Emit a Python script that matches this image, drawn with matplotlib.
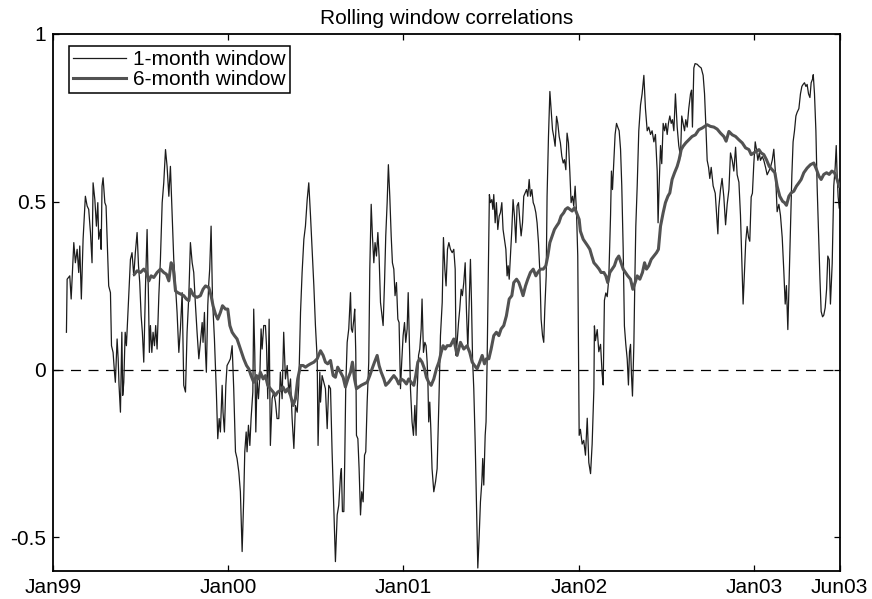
import matplotlib
matplotlib.use("Agg")
import matplotlib.pyplot as plt

# 1-month rolling window correlation (decimal years, corr)
t_1m = [
    1999.078, 1999.082, 1999.097, 1999.105, 1999.110, 1999.120, 1999.129, 1999.139,
    1999.148, 1999.154, 1999.163, 1999.173, 1999.186, 1999.196, 1999.205, 1999.215,
    1999.224, 1999.230, 1999.240, 1999.249, 1999.257, 1999.262, 1999.272, 1999.276,
    1999.281, 1999.287, 1999.297, 1999.304, 1999.319, 1999.329, 1999.335, 1999.344,
    1999.352, 1999.357, 1999.367, 1999.373, 1999.378, 1999.386, 1999.394, 1999.399,
    1999.405, 1999.413, 1999.420, 1999.433, 1999.443, 1999.452, 1999.462, 1999.471,
    1999.481, 1999.489, 1999.496, 1999.504, 1999.511, 1999.519, 1999.529, 1999.538,
    1999.546, 1999.551, 1999.557, 1999.565, 1999.572, 1999.580, 1999.587, 1999.595,
    1999.605, 1999.614, 1999.624, 1999.633, 1999.643, 1999.652, 1999.662, 1999.671,
    1999.681, 1999.690, 1999.700, 1999.709, 1999.719, 1999.728, 1999.738, 1999.747,
    1999.757, 1999.766, 1999.776,
    1999.785, 1999.795, 1999.804, 1999.814, 1999.823, 1999.833, 1999.842, 1999.852,
    1999.857, 1999.865, 1999.871, 1999.876, 1999.884, 1999.890, 1999.895, 1999.903,
    1999.911, 1999.922, 1999.933, 1999.941, 1999.949, 1999.956, 1999.966, 1999.971,
    1999.979, 1999.987, 1999.994, 2000.004, 2000.013, 2000.023, 2000.032, 2000.042,
    2000.051, 2000.061, 2000.070, 2000.080, 2000.089, 2000.095, 2000.103, 2000.108,
    2000.116, 2000.124, 2000.131, 2000.141, 2000.146, 2000.152, 2000.158, 2000.165,
    2000.173, 2000.181, 2000.188, 2000.194, 2000.203, 2000.213, 2000.219, 2000.226,
    2000.234, 2000.241, 2000.251, 2000.260, 2000.270, 2000.279, 2000.289, 2000.298,
    2000.308, 2000.317, 2000.327, 2000.337, 2000.346, 2000.356, 2000.365, 2000.375,
    2000.384, 2000.394, 2000.403, 2000.413, 2000.422, 2000.432, 2000.441, 2000.451,
    2000.460, 2000.470, 2000.479, 2000.489, 2000.498, 2000.508, 2000.513, 2000.523,
    2000.527, 2000.536, 2000.546, 2000.555, 2000.565, 2000.574, 2000.584, 2000.593,
    2000.603, 2000.612, 2000.622, 2000.631, 2000.641, 2000.646, 2000.652, 2000.660,
    2000.665, 2000.671, 2000.679, 2000.688, 2000.698, 2000.703, 2000.709, 2000.717,
    2000.722, 2000.728, 2000.732, 2000.740, 2000.747, 2000.755, 2000.762, 2000.770,
    2000.778, 2000.785, 2000.793, 2000.802, 2000.808, 2000.816, 2000.823, 2000.831,
    2000.838, 2000.846, 2000.854, 2000.861, 2000.869, 2000.878, 2000.884, 2000.892,
    2000.899, 2000.907, 2000.914, 2000.922, 2000.930, 2000.937, 2000.945, 2000.952,
    2000.960, 2000.968, 2000.975, 2000.983, 2000.990, 2000.998, 2001.006, 2001.013,
    2001.021, 2001.027, 2001.034, 2001.040, 2001.049, 2001.057, 2001.065, 2001.072,
    2001.078, 2001.086, 2001.093, 2001.101, 2001.106, 2001.114, 2001.122, 2001.129,
    2001.135, 2001.139, 2001.144, 2001.150, 2001.156, 2001.163, 2001.173, 2001.183,
    2001.192, 2001.202, 2001.211, 2001.221, 2001.228, 2001.236, 2001.243, 2001.251,
    2001.259,
    2001.268, 2001.278, 2001.287, 2001.295, 2001.300, 2001.306, 2001.314, 2001.321,
    2001.329, 2001.336, 2001.344, 2001.352, 2001.359, 2001.367, 2001.375, 2001.382,
    2001.388, 2001.394, 2001.401, 2001.409, 2001.416, 2001.424, 2001.432, 2001.439,
    2001.447, 2001.452, 2001.458, 2001.466, 2001.471, 2001.477, 2001.485, 2001.490,
    2001.496, 2001.504, 2001.510, 2001.515, 2001.523, 2001.530, 2001.538, 2001.546,
    2001.553, 2001.561, 2001.568, 2001.576, 2001.584, 2001.591, 2001.597, 2001.603,
    2001.610, 2001.618, 2001.625, 2001.633, 2001.641, 2001.648, 2001.656, 2001.663,
    2001.671, 2001.679, 2001.686, 2001.694, 2001.702, 2001.709, 2001.717, 2001.724,
    2001.732, 2001.740, 2001.747, 2001.755, 2001.762, 2001.770, 2001.778, 2001.785,
    2001.793, 2001.800, 2001.806, 2001.814, 2001.819, 2001.827, 2001.835, 2001.842,
    2001.850, 2001.857, 2001.865, 2001.873, 2001.880, 2001.888, 2001.895, 2001.903,
    2001.911, 2001.918, 2001.926, 2001.933, 2001.941, 2001.949, 2001.956, 2001.964,
    2001.971, 2001.979, 2001.987, 2001.994, 2002.002,
    2002.009, 2002.019, 2002.028, 2002.038, 2002.048, 2002.057, 2002.067, 2002.076,
    2002.086, 2002.089, 2002.095, 2002.105, 2002.114, 2002.124, 2002.133, 2002.139,
    2002.146, 2002.154, 2002.162, 2002.171, 2002.181, 2002.186, 2002.192, 2002.200,
    2002.207, 2002.215, 2002.222, 2002.230, 2002.238, 2002.245, 2002.253, 2002.260,
    2002.268, 2002.276, 2002.283, 2002.289, 2002.295, 2002.300, 2002.306, 2002.314,
    2002.319, 2002.325, 2002.333, 2002.342, 2002.352, 2002.361, 2002.371, 2002.380,
    2002.390, 2002.399, 2002.409, 2002.418, 2002.428, 2002.437, 2002.447, 2002.452,
    2002.458, 2002.466, 2002.473, 2002.481, 2002.489, 2002.496, 2002.504, 2002.511,
    2002.519, 2002.527, 2002.534, 2002.542, 2002.551, 2002.561, 2002.570, 2002.580,
    2002.587, 2002.595, 2002.603, 2002.610, 2002.618, 2002.627, 2002.637, 2002.643,
    2002.648, 2002.656, 2002.663, 2002.675, 2002.686, 2002.698, 2002.709, 2002.717,
    2002.724, 2002.732, 2002.740, 2002.747, 2002.755, 2002.766, 2002.778, 2002.785,
    2002.793, 2002.798, 2002.808, 2002.817, 2002.827, 2002.837, 2002.846, 2002.856,
    2002.865, 2002.875, 2002.884, 2002.894, 2002.903, 2002.913, 2002.922, 2002.930,
    2002.937, 2002.945, 2002.952, 2002.960, 2002.968, 2002.975, 2002.983, 2002.990,
    2002.998, 2003.006, 2003.013, 2003.021, 2003.029, 2003.036, 2003.046, 2003.055,
    2003.065, 2003.074, 2003.084, 2003.093, 2003.103, 2003.112, 2003.122, 2003.131,
    2003.141, 2003.150, 2003.160, 2003.169, 2003.177, 2003.184, 2003.192, 2003.200,
    2003.207, 2003.215, 2003.222, 2003.230, 2003.238, 2003.245, 2003.255, 2003.264,
    2003.272, 2003.279, 2003.287, 2003.295, 2003.302, 2003.310, 2003.318, 2003.325,
    2003.333, 2003.337, 2003.344, 2003.352, 2003.359, 2003.367, 2003.375, 2003.382,
    2003.390, 2003.397, 2003.405, 2003.413, 2003.420, 2003.428, 2003.435, 2003.445,
    2003.454, 2003.462, 2003.468, 2003.473, 2003.479, 2003.485,
]
corr_1m = [
    0.111, 0.269, 0.279, 0.210, 0.264, 0.378, 0.318, 0.358,
    0.289, 0.368, 0.210, 0.388, 0.516, 0.487, 0.477, 0.408,
    0.318, 0.556, 0.506, 0.427, 0.497, 0.388, 0.417, 0.358,
    0.546, 0.571, 0.497, 0.487, 0.249, 0.229, 0.071, 0.051,
    -0.008, -0.038, 0.091, 0.032, -0.047, -0.127, 0.111, -0.077,
    -0.038, 0.111, 0.071, 0.220, 0.328, 0.348, 0.279, 0.348,
    0.408, 0.309, 0.259, 0.160, 0.111, 0.022, 0.249, 0.417,
    0.210, 0.051, 0.131, 0.051, 0.111, 0.071, 0.131, 0.061,
    0.220, 0.328, 0.497, 0.556, 0.655, 0.605, 0.516, 0.605,
    0.457, 0.328, 0.249, 0.170, 0.051, 0.121, 0.229, -0.047,
    -0.067, 0.111, 0.220,
    0.378, 0.318, 0.289, 0.190, 0.111, 0.032, 0.081, 0.140,
    0.081, 0.170, 0.051, -0.008, 0.190, 0.259, 0.299, 0.427,
    0.210, 0.091, -0.067, -0.206, -0.146, -0.186, -0.047, -0.127,
    -0.186, -0.047, 0.012, 0.022, 0.032, 0.071, -0.057, -0.245,
    -0.265, -0.305, -0.364, -0.542, -0.384, -0.245, -0.186, -0.245,
    -0.166, -0.226, -0.146, -0.067, 0.180, 0.051, -0.186, -0.028,
    -0.087, -0.018, 0.121, 0.061, 0.131, 0.131, 0.071, -0.087,
    0.150, -0.226, -0.087, -0.067, -0.097, -0.146, -0.146, -0.008,
    -0.087, 0.111, -0.028, 0.012, -0.067, -0.028, -0.146, -0.235,
    -0.107, -0.127, -0.047, 0.170, 0.289, 0.388, 0.427, 0.506,
    0.556, 0.457, 0.358, 0.249, 0.131, 0.032, -0.226, -0.008,
    -0.097, -0.018, -0.038, -0.057, -0.176, -0.047, -0.057, -0.245,
    -0.423, -0.572, -0.433, -0.404, -0.315, -0.295, -0.423, -0.423,
    -0.275, -0.047, 0.081, 0.121, 0.229, 0.121, 0.111, 0.150,
    0.180, 0.051, -0.196, -0.206, -0.295, -0.433, -0.364, -0.394,
    -0.255, -0.245, -0.097, 0.022, 0.299, 0.492, 0.398, 0.318,
    0.378, 0.338, 0.408, 0.338, 0.200, 0.160, 0.131, 0.259,
    0.398, 0.497, 0.610, 0.516, 0.398, 0.318, 0.299, 0.220,
    0.259, 0.150, 0.140, -0.057, 0.022, 0.101, 0.140, 0.081,
    0.121, 0.229, 0.081, -0.057, -0.156, -0.196, -0.107, -0.196,
    -0.067, 0.042, 0.061, 0.121, 0.210, 0.051, 0.081, 0.071,
    0.022, -0.028, -0.156, -0.097, -0.176, -0.295, -0.364, -0.334,
    -0.295, -0.097, 0.101, 0.200, 0.393, 0.299, 0.249, 0.358,
    0.378,
    0.358, 0.348, 0.358, 0.299, 0.042, 0.081, 0.140, 0.180,
    0.239, 0.220, 0.259, 0.318, 0.180, 0.061, 0.200, 0.328,
    0.200, 0.032, -0.057, -0.216, -0.394, -0.591, -0.493, -0.394,
    -0.334, -0.265, -0.344, -0.196, -0.156, 0.022, 0.338, 0.521,
    0.497, 0.506, 0.477, 0.521, 0.437, 0.497, 0.417, 0.457,
    0.467, 0.497, 0.417, 0.388, 0.358, 0.279, 0.309, 0.269,
    0.338, 0.417, 0.506, 0.457, 0.378, 0.487, 0.497, 0.447,
    0.398, 0.437, 0.516, 0.526, 0.536, 0.516, 0.566, 0.516,
    0.536, 0.497, 0.487, 0.467, 0.437, 0.378, 0.289, 0.150,
    0.101, 0.081, 0.180, 0.279, 0.516, 0.694, 0.828, 0.774,
    0.714, 0.694, 0.665, 0.754, 0.734, 0.694, 0.675, 0.635,
    0.615, 0.625, 0.595, 0.704, 0.675, 0.586, 0.497, 0.516,
    0.487, 0.546, 0.467, 0.338, -0.196,
    -0.178, -0.222, -0.211, -0.255, -0.145, -0.277, -0.310, -0.222,
    -0.057, 0.130, 0.086, 0.119, 0.053, 0.075, -0.013, -0.046,
    0.206, 0.228, 0.217, 0.272, 0.459, 0.591, 0.536, 0.623,
    0.700, 0.733, 0.722, 0.711, 0.656, 0.547, 0.360, 0.130,
    0.075, 0.031, -0.046, 0.053, 0.075, -0.013, -0.079, 0.075,
    0.250, 0.426, 0.547, 0.711, 0.788, 0.821, 0.876, 0.777,
    0.711, 0.722, 0.700, 0.711, 0.678, 0.700, 0.591, 0.437,
    0.547, 0.667, 0.613, 0.733, 0.711, 0.733, 0.700, 0.733,
    0.755, 0.733, 0.744, 0.711, 0.821, 0.722, 0.667, 0.634,
    0.755, 0.733, 0.711, 0.744, 0.722, 0.777, 0.821, 0.832,
    0.722, 0.898, 0.911, 0.909, 0.903, 0.898, 0.876, 0.821,
    0.733, 0.623, 0.602, 0.569, 0.602, 0.547, 0.525, 0.470,
    0.404, 0.481, 0.536, 0.569, 0.514, 0.431, 0.492, 0.536,
    0.645, 0.623, 0.591, 0.662, 0.580, 0.558, 0.459, 0.316,
    0.195, 0.294, 0.382, 0.426, 0.393, 0.382, 0.514, 0.525,
    0.613, 0.678, 0.656, 0.623, 0.645, 0.623, 0.634, 0.623,
    0.602, 0.580, 0.591, 0.602, 0.623, 0.656, 0.580, 0.470,
    0.492, 0.459, 0.393, 0.294, 0.195, 0.250, 0.119, 0.283,
    0.426, 0.580, 0.678, 0.711, 0.755, 0.766, 0.777, 0.821,
    0.843, 0.849, 0.854, 0.843, 0.849, 0.821, 0.810, 0.854,
    0.865, 0.878, 0.821, 0.711, 0.547, 0.404, 0.272, 0.173,
    0.157, 0.162, 0.184, 0.239, 0.338, 0.327, 0.195, 0.316,
    0.547, 0.602, 0.667, 0.580, 0.514, 0.481,
]

# 6-month rolling window correlation
t_6m = [
    1999.466, 1999.481, 1999.500, 1999.519, 1999.534, 1999.548, 1999.561, 1999.576,
    1999.595, 1999.614, 1999.633, 1999.648, 1999.662, 1999.675, 1999.686, 1999.700,
    1999.713, 1999.728, 1999.747, 1999.762, 1999.776,
    1999.785, 1999.804, 1999.823, 1999.842, 1999.857, 1999.871, 1999.890, 1999.903,
    1999.914, 1999.928, 1999.941, 1999.956, 1999.968, 1999.985, 1999.998, 2000.010,
    2000.023, 2000.036, 2000.051, 2000.070, 2000.089, 2000.105, 2000.118, 2000.131,
    2000.146, 2000.162, 2000.175, 2000.184, 2000.200, 2000.213, 2000.226, 2000.241,
    2000.257, 2000.270, 2000.283, 2000.298, 2000.313, 2000.327, 2000.340, 2000.356,
    2000.371, 2000.384, 2000.397, 2000.413, 2000.428, 2000.441, 2000.454, 2000.470,
    2000.489, 2000.508, 2000.523,
    2000.527, 2000.542, 2000.555, 2000.568, 2000.584, 2000.599, 2000.612, 2000.625,
    2000.641, 2000.656, 2000.669, 2000.683, 2000.698, 2000.709, 2000.721, 2000.732,
    2000.745, 2000.759, 2000.774, 2000.793, 2000.808, 2000.821, 2000.835, 2000.850,
    2000.861, 2000.873, 2000.888, 2000.899, 2000.916, 2000.930, 2000.945, 2000.960,
    2000.973, 2000.987, 2001.002, 2001.017, 2001.030, 2001.044, 2001.059, 2001.070,
    2001.082, 2001.093, 2001.106, 2001.120, 2001.131, 2001.144, 2001.158, 2001.173,
    2001.188, 2001.202, 2001.215, 2001.226, 2001.238, 2001.249,
    2001.268, 2001.287, 2001.306, 2001.325, 2001.344, 2001.363, 2001.378, 2001.392,
    2001.405, 2001.420, 2001.435, 2001.449, 2001.462, 2001.473, 2001.487, 2001.500,
    2001.515, 2001.530, 2001.544, 2001.557, 2001.572, 2001.587, 2001.603, 2001.618,
    2001.629, 2001.645, 2001.658, 2001.671, 2001.682, 2001.696, 2001.709, 2001.724,
    2001.740, 2001.755, 2001.766, 2001.781, 2001.797, 2001.812, 2001.823, 2001.835,
    2001.848, 2001.861, 2001.873, 2001.886, 2001.899, 2001.914, 2001.924, 2001.937,
    2001.949, 2001.962, 2001.975, 2001.987, 2002.002,
    2002.009, 2002.025, 2002.038, 2002.051, 2002.063, 2002.074, 2002.086, 2002.101,
    2002.116, 2002.127, 2002.143, 2002.154, 2002.165, 2002.177, 2002.190, 2002.203,
    2002.215, 2002.228, 2002.241, 2002.253, 2002.266, 2002.279, 2002.295, 2002.308,
    2002.321, 2002.333, 2002.348, 2002.363, 2002.375, 2002.386, 2002.399, 2002.413,
    2002.428, 2002.443, 2002.454, 2002.466, 2002.481, 2002.494, 2002.508, 2002.519,
    2002.532, 2002.546, 2002.561, 2002.572, 2002.584, 2002.595, 2002.610, 2002.627,
    2002.646, 2002.665, 2002.684, 2002.703, 2002.717, 2002.732, 2002.751,
    2002.770, 2002.789, 2002.808, 2002.827, 2002.840, 2002.856, 2002.875, 2002.894,
    2002.913, 2002.932, 2002.951, 2002.970, 2002.983, 2002.998, 2003.013, 2003.027,
    2003.040, 2003.055, 2003.070, 2003.086, 2003.103, 2003.118, 2003.131, 2003.146,
    2003.162, 2003.173, 2003.184, 2003.198, 2003.211, 2003.226, 2003.241, 2003.255,
    2003.268, 2003.283, 2003.302, 2003.321, 2003.340, 2003.356, 2003.369, 2003.382,
    2003.397, 2003.413, 2003.428, 2003.443, 2003.458, 2003.473, 2003.485,
]
corr_6m = [
    0.284, 0.294, 0.289, 0.299, 0.289, 0.264, 0.279, 0.274,
    0.289, 0.299, 0.289, 0.284, 0.264, 0.318, 0.309, 0.234,
    0.229, 0.225, 0.220, 0.210, 0.205,
    0.239, 0.220, 0.215, 0.220, 0.239, 0.249, 0.244, 0.220,
    0.190, 0.165, 0.150, 0.170, 0.190, 0.180, 0.180, 0.131,
    0.111, 0.101, 0.091, 0.061, 0.032, 0.012, 0.002, -0.018,
    -0.038, -0.018, -0.028, -0.008, -0.028, -0.018, -0.047, -0.057,
    -0.067, -0.077, -0.067, -0.062, -0.052, -0.067, -0.057, -0.077,
    -0.107, -0.087, -0.028, 0.012, 0.012, 0.007, 0.012, 0.017,
    0.022, 0.032, 0.051,
    0.056, 0.042, 0.022, 0.017, 0.027, -0.018, -0.023, 0.007,
    -0.008, -0.023, -0.052, -0.028, -0.008, 0.022, -0.028, -0.057,
    -0.052, -0.047, -0.043, -0.038, -0.018, 0.002, 0.022, 0.042,
    0.012, -0.008, -0.028, -0.047, -0.038, -0.028, -0.018, -0.028,
    -0.043, -0.028, -0.033, -0.043, -0.028, -0.038, -0.047, -0.018,
    0.022, 0.032, 0.022, 0.002, -0.023, -0.038, -0.047, -0.028,
    0.002, 0.022, 0.051, 0.071, 0.061, 0.071,
    0.071, 0.091, 0.042, 0.081, 0.061, 0.071, 0.051, 0.022,
    0.012, 0.002, 0.022, 0.042, 0.017, 0.032, 0.032, 0.061,
    0.101, 0.111, 0.101, 0.121, 0.131, 0.160, 0.210, 0.220,
    0.259, 0.269, 0.259, 0.239, 0.220, 0.249, 0.269, 0.289,
    0.299, 0.279, 0.289, 0.299, 0.299, 0.309, 0.338, 0.378,
    0.398, 0.417, 0.427, 0.437, 0.457, 0.467, 0.477, 0.482,
    0.477, 0.472, 0.482, 0.467, 0.447,
    0.412, 0.388, 0.378, 0.368, 0.358, 0.338, 0.318, 0.309,
    0.299, 0.289, 0.289, 0.279, 0.259, 0.289, 0.299, 0.309,
    0.328, 0.338, 0.318, 0.299, 0.289, 0.279, 0.269, 0.239,
    0.259, 0.279, 0.269, 0.289, 0.318, 0.299, 0.309, 0.328,
    0.338, 0.348, 0.358, 0.427, 0.467, 0.497, 0.516, 0.526,
    0.566, 0.586, 0.605, 0.625, 0.655, 0.665, 0.675, 0.684,
    0.694, 0.699, 0.714, 0.719, 0.724, 0.729, 0.724,
    0.722, 0.716, 0.704, 0.694, 0.680, 0.709, 0.699, 0.694,
    0.684, 0.675, 0.660, 0.655, 0.640, 0.645, 0.650, 0.655,
    0.645, 0.640, 0.625, 0.605, 0.595, 0.586, 0.546, 0.516,
    0.501, 0.497, 0.489, 0.516, 0.526, 0.531, 0.546, 0.556,
    0.566, 0.586, 0.600, 0.610, 0.615, 0.595, 0.576, 0.566,
    0.581, 0.586, 0.581, 0.591, 0.586, 0.566, 0.546,
]

x_ticks = [1999.0, 2000.0, 2001.0, 2002.0, 2003.0, 2003.487]
x_labels = ["Jan99", "Jan00", "Jan01", "Jan02", "Jan03", "Jun03"]
y_ticks = [-0.5, 0, 0.5, 1]
y_labels = ["-0.5", "0", "0.5", "1"]

plt.rcParams['font.family'] = ['Liberation Sans', 'DejaVu Sans']
plt.rcParams['font.size'] = 15

fig = plt.figure(figsize=(8.72, 5.99), dpi=100)
ax = fig.add_axes([0.0605, 0.0467, 0.9023, 0.897])

ax.axhline(0, color='black', lw=0.9, linestyle=(0, (8, 6)), zorder=1)
ax.plot(t_1m, corr_1m, color='#1c1c1c', lw=0.9, label='1-month window', zorder=2)
ax.plot(t_6m, corr_6m, color='#525252', lw=2.2, label='6-month window', zorder=3)

ax.set_xlim(1999.0, 2003.487)
ax.set_ylim(-0.6, 1)
ax.set_xticks(x_ticks)
ax.set_xticklabels(x_labels)
ax.set_yticks(y_ticks)
ax.set_yticklabels(y_labels)
ax.tick_params(direction='in', top=True, right=True, length=4.5, width=0.9,
               labelsize=15, pad=5)
for s in ax.spines.values():
    s.set_linewidth(1.3)

ax.set_title('Rolling window correlations', fontsize=15, pad=7)

leg = ax.legend(loc='upper left', bbox_to_anchor=(0.021, 0.977), borderaxespad=0,
                borderpad=0.2, handlelength=2.5, handletextpad=0.35,
                labelspacing=0.05, fancybox=False, framealpha=1, fontsize=15)
leg.get_frame().set_edgecolor('black')
leg.get_frame().set_linewidth(1.1)

fig.savefig('out.png', dpi=100)
